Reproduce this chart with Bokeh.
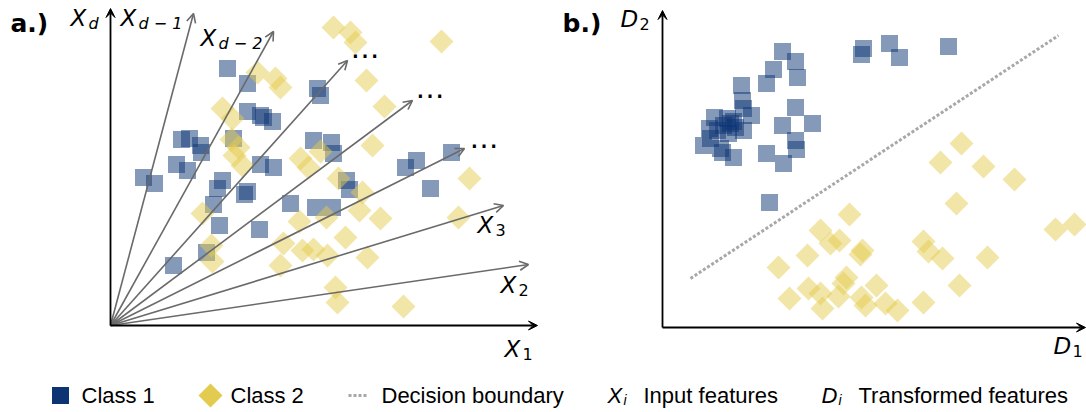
import math
from bokeh.plotting import figure
from bokeh.models import ColumnDataSource, Range1d, Arrow, OpenHead, VeeHead
from bokeh.core.properties import value
from bokeh.embed import file_html
from bokeh.resources import INLINE

# ---- data -------------------------------------------------------------
# Panel a: samples in the original feature space (origin at the lower left)
a_class1_x = [117, 137, 207, 210, 137, 150, 153, 162, 123, 71, 79, 90, 91, 203, 221, 223,
              66, 77, 33, 44, 112, 107, 137, 134, 150, 163, 103, 109, 149, 180, 205, 222,
              96, 63, 236, 239, 295, 306, 341, 320]
a_class1_y = [257, 242, 237, 230, 214, 210, 208, 204, 187, 186, 187, 180, 173, 185, 183, 172,
              161, 155, 148, 142, 145, 137, 134, 131, 161, 158, 121, 100, 96, 122, 118, 118,
              73, 60, 145, 136, 158, 165, 173, 137]
a_class2_x = [223, 240, 245, 331, 147, 165, 170, 256, 274, 112, 122, 121, 128, 124, 132, 190,
              198, 210, 262, 228, 252, 249, 270, 359, 348, 92, 189, 216, 235, 101, 102, 173,
              192, 203, 217, 170, 257, 225, 227, 293]
a_class2_y = [298, 293, 283, 284, 253, 247, 238, 245, 219, 217, 207, 186, 178, 170, 160, 167,
              158, 174, 180, 147, 133, 115, 107, 147, 108, 112, 104, 108, 88, 80, 64, 82,
              75, 76, 70, 60, 68, 38, 23, 19]

# Feature directions X_d ... X_2 drawn from the origin
feat_dx = [83, 163, 237, 302, 354, 393, 418]
feat_dy = [312, 294, 265, 225, 177, 120, 61]

# Panel b: the same samples after the transformation
b_class1_x = [120, 133, 111, 135, 104, 79, 80, 81, 89, 52, 71, 68, 61, 73, 81, 47, 55, 66,
              48, 41, 58, 60, 71, 65, 133, 120, 150, 133, 134, 104, 121, 107, 201, 199, 227,
              237, 286]
b_class1_y = [276, 266, 258, 250, 244, 242, 227, 219, 212, 210, 206, 204, 202, 200, 197, 199,
              197, 194, 189, 182, 179, 175, 170, 209, 220, 202, 204, 187, 178, 174, 164, 125,
              279, 273, 284, 270, 281]
b_class2_x = [299, 278, 321, 352, 294, 393, 412, 187, 158, 168, 177, 200, 198, 145, 116, 261,
              266, 280, 325, 184, 181, 214, 146, 158, 127, 160, 176, 199, 203, 223, 235, 261,
              297]
b_class2_y = [184, 165, 161, 148, 124, 98, 103, 113, 97, 84, 87, 77, 73, 72, 60, 86,
              76, 69, 70, 50, 44, 42, 39, 34, 29, 19, 31, 30, 22, 24, 17, 25,
              42]

boundary_x = [28, 396]
boundary_y = [49, 292]

legend_labels = ["Class 1", "Class 2", "Decision boundary", "Input features",
                 "Transformed features"]

# ---- styling ----------------------------------------------------------
NAVY = "#0c3473"
GOLD = "#e3cb4f"
ARROW_GREY = "#6a6a6a"
DOT_GREY = "#a8a8a8"
MATH_FONT = value("DejaVu Sans")
LEG_FONT = value("Liberation Sans")

W, H = 1086, 412
p = figure(width=W, height=H, x_range=Range1d(0, W), y_range=Range1d(H, 0),
           x_axis_location=None, y_axis_location=None, toolbar_location=None,
           output_backend="svg", min_border=0, outline_line_color=None)
p.grid.visible = False

# panel coordinate systems (y pointing up, origin at each panel's corner)
p.extra_x_ranges = {"ax": Range1d(-110, W - 110), "bx": Range1d(-662, W - 662)}
p.extra_y_ranges = {"ay": Range1d(325 - H, 325), "by": Range1d(327 - H, 327)}

# ---- panel a ----------------------------------------------------------
feat_src = ColumnDataSource(dict(x0=[0] * len(feat_dx), y0=[0] * len(feat_dy),
                                 x1=feat_dx, y1=feat_dy))
p.add_layout(Arrow(source=feat_src, x_start="x0", y_start="y0", x_end="x1", y_end="y1",
                   line_color=ARROW_GREY, line_width=1.6,
                   end=OpenHead(size=9, line_color=ARROW_GREY, line_width=1.6),
                   x_range_name="ax", y_range_name="ay"))

p.scatter(a_class1_x, a_class1_y, marker="square", size=17, fill_color=NAVY,
          fill_alpha=0.5, line_color=None, x_range_name="ax", y_range_name="ay")
p.scatter(a_class2_x, a_class2_y, marker="square", angle=math.pi / 4, size=17,
          fill_color=GOLD, fill_alpha=0.5, line_color=None,
          x_range_name="ax", y_range_name="ay")

for (x1, y1, rx, ry) in [(427, 0, "ax", "ay"), (0, 317, "ax", "ay"),
                         (423, 0, "bx", "by"), (0, 317, "bx", "by")]:
    p.add_layout(Arrow(x_start=0, y_start=0, x_end=x1, y_end=y1, line_color="black",
                       line_width=1.8,
                       end=VeeHead(size=9, fill_color="black", line_color="black",
                                   line_width=1),
                       x_range_name=rx, y_range_name=ry))

# ---- panel b ----------------------------------------------------------
p.line(boundary_x, boundary_y, line_color=DOT_GREY, line_width=3, line_dash="3 2",
       x_range_name="bx", y_range_name="by")
p.scatter(b_class1_x, b_class1_y, marker="square", size=17, fill_color=NAVY,
          fill_alpha=0.5, line_color=None, x_range_name="bx", y_range_name="by")
p.scatter(b_class2_x, b_class2_y, marker="square", angle=math.pi / 4, size=17,
          fill_color=GOLD, fill_alpha=0.5, line_color=None,
          x_range_name="bx", y_range_name="by")

# ---- annotations (canvas coordinates) --------------------------------
BASELINE_SHIFT = -8  # Bokeh places the alphabetic baseline a little low


def txt(x, y, s, size, font=MATH_FONT, style="normal", color="black"):
    p.text(x=[x], y=[y + BASELINE_SHIFT], text=[s], text_font=font,
           text_font_size=f"{size}px", text_font_style=style, text_color=color,
           text_baseline="alphabetic", text_align="left")


txt(10, 31, "a.)", 25, style="bold")
txt(562, 31, "b.)", 25, style="bold")

# italic symbol + subscript
symbols = [
    (70, 25, "X", 88, 31, "d"),
    (120, 25, "X", 138, 31, "d − 1"),
    (200, 45, "X", 218, 51, "d − 2"),
    (477, 232, "X", 495, 237, "3"),
    (500, 292, "X", 518, 297, "2"),
    (504, 356, "X", 522, 361, "1"),
    (620, 26, "D", 639, 31, "2"),
    (1053, 353, "D", 1072, 358, "1"),
]
for (x, y, s, sx, sy, sub) in symbols:
    txt(x, y, s, 23, style="italic")
    txt(sx, sy, sub, 16, style="italic" if sub[0] == "d" else "normal")

for (x, y) in [(350, 55), (415, 95), (469, 145)]:
    txt(x, y, "…", 29)

# ---- legend -----------------------------------------------------------
p.scatter([60], [395], marker="square", size=17, fill_color=NAVY, line_color=None)
p.scatter([210], [395], marker="square", angle=math.pi / 4, size=17, fill_color=GOLD,
          line_color=None)
p.line([348, 367], [395, 395], line_color=DOT_GREY, line_width=3, line_dash="3 2")
txt(81, 403, legend_labels[0], 22, font=LEG_FONT)
txt(230, 403, legend_labels[1], 22, font=LEG_FONT)
txt(381, 403, legend_labels[2], 22, font=LEG_FONT)
txt(607, 403, "X", 22, font=LEG_FONT, style="italic")
txt(623, 407, "i", 14, font=LEG_FONT, style="italic")
txt(643, 403, legend_labels[3], 22, font=LEG_FONT)
txt(821, 403, "D", 22, font=LEG_FONT, style="italic")
txt(838, 407, "i", 14, font=LEG_FONT, style="italic")
txt(858, 403, legend_labels[4], 22, font=LEG_FONT)

open("out.html", "w").write(file_html(p, INLINE))
